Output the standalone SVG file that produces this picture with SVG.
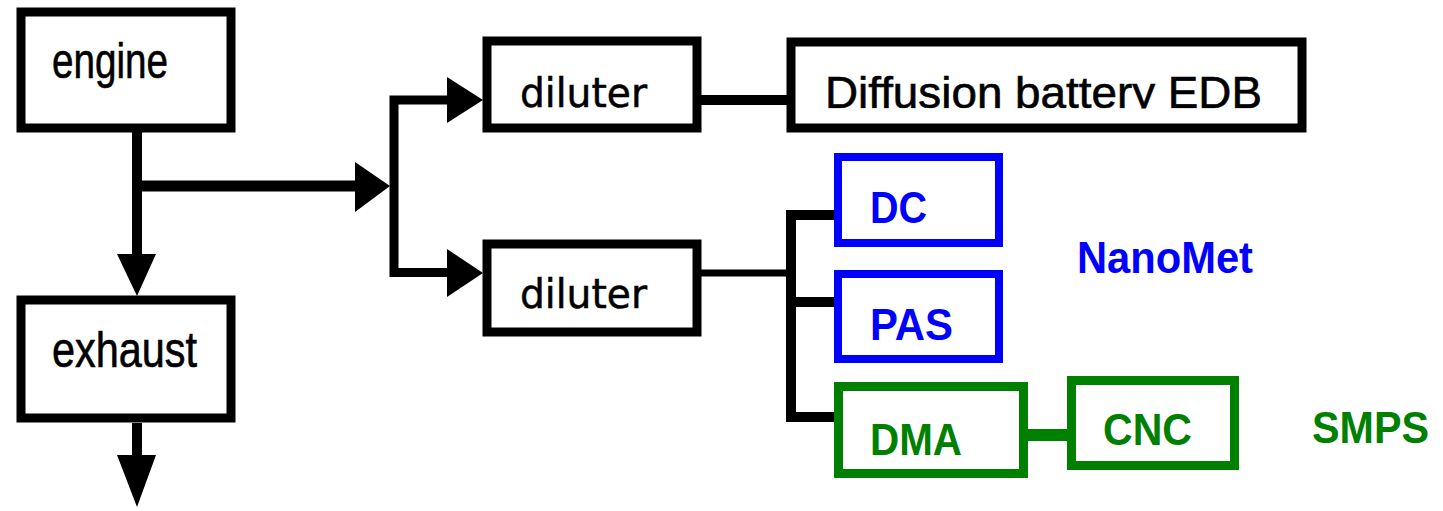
<svg xmlns="http://www.w3.org/2000/svg" width="1443" height="511" viewBox="0 0 1443 511">
<style>
.box{fill:#fff;stroke:#000;stroke-width:9}
.blue{fill:#fff;stroke:#0000ff;stroke-width:8}
.green{fill:#fff;stroke:#008000;stroke-width:9}
.t{font-family:"Liberation Sans",Arial,sans-serif;font-size:48px;fill:#000;stroke:#000;stroke-width:0.6}
.d{font-family:"DejaVu Sans",sans-serif;font-size:40px;fill:#000;stroke:#000;stroke-width:0.5}
.b{font-family:"Liberation Sans",Arial,sans-serif;font-weight:bold;font-size:41px}
.wire{fill:none;stroke:#000;stroke-linejoin:miter;stroke-linecap:butt}
.head{fill:#000}
</style>
<defs>
<clipPath id="clipEdb"><rect x="800" y="50" width="500" height="58.5"/></clipPath>
</defs>
<rect width="1443" height="511" fill="#fff"/>
<g id="connectors">
<path class="wire" stroke-width="10" d="M137 132 V255"/>
<path class="wire" stroke-width="11" d="M137 186 H356"/>
<path class="wire" stroke-width="10" d="M137 423 V456"/>
<path class="wire" stroke-width="9" d="M448 100 H394 V272.5 H448"/>
<path class="wire" stroke-width="10" d="M701 100 H787"/>
<path class="wire" stroke-width="7" d="M701 273 H791"/>
<path class="wire" stroke-width="10" d="M834 215 H791 V417 H834"/>
<path class="wire" stroke-width="10" d="M791 302 H834"/>
<path fill="none" stroke="#008000" stroke-width="12" d="M1028 435 H1067"/>
<polygon class="head" points="117,254 156,254 137,296"/>
<polygon class="head" points="117,455 156,455 137,507"/>
<polygon class="head" points="355,162 390,186 355,212"/>
<polygon class="head" points="447,77 483,100 447,123"/>
<polygon class="head" points="447,249 483,273 447,297"/>
</g>
<g id="engine">
<rect class="box" x="21" y="12" width="210" height="116"/>
<text class="t" transform="translate(52 78) scale(1 1.05)" textLength="116" lengthAdjust="spacingAndGlyphs">engine</text>
</g>
<g id="exhaust">
<rect class="box" x="21" y="300" width="210" height="118"/>
<text class="t" transform="translate(52 367) scale(1 1.05)" textLength="145" lengthAdjust="spacingAndGlyphs">exhaust</text>
</g>
<g id="diluter1">
<rect class="box" x="487" y="41" width="210" height="87"/>
<text class="d" x="520" y="107" textLength="127" lengthAdjust="spacingAndGlyphs">diluter</text>
</g>
<g id="diluter2">
<rect class="box" x="487" y="244" width="210" height="88"/>
<text class="d" x="520" y="308" textLength="127" lengthAdjust="spacingAndGlyphs">diluter</text>
</g>
<g id="edb">
<rect class="box" x="791" y="42" width="511" height="86"/>
<g clip-path="url(#clipEdb)">
<text class="t" x="825" y="108" textLength="437" lengthAdjust="spacingAndGlyphs" style="font-size:45px">Diffusion battery EDB</text>
</g>
</g>
<g id="dc">
<rect class="blue" x="838" y="157" width="161" height="86"/>
<text class="b" transform="translate(870 223) scale(1 1.1)" fill="#0000ff" textLength="57" lengthAdjust="spacingAndGlyphs">DC</text>
</g>
<g id="pas">
<rect class="blue" x="838" y="274" width="161" height="85"/>
<text class="b" transform="translate(870 340) scale(1 1.1)" fill="#0000ff" textLength="83" lengthAdjust="spacingAndGlyphs">PAS</text>
</g>
<g id="nanomet">
<text class="b" transform="translate(1077 273) scale(1 1.1)" fill="#0000ff" textLength="176" lengthAdjust="spacingAndGlyphs">NanoMet</text>
</g>
<g id="dma">
<rect class="green" x="838.5" y="386.5" width="185" height="87"/>
<text class="b" transform="translate(870 455) scale(1 1.1)" fill="#008000" textLength="92" lengthAdjust="spacingAndGlyphs">DMA</text>
</g>
<g id="cnc">
<rect class="green" x="1071.5" y="380.5" width="163" height="85"/>
<text class="b" transform="translate(1103 445) scale(1 1.1)" fill="#008000" textLength="89" lengthAdjust="spacingAndGlyphs">CNC</text>
</g>
<g id="smps">
<text class="b" transform="translate(1312 443) scale(1 1.1)" fill="#008000" textLength="117" lengthAdjust="spacingAndGlyphs">SMPS</text>
</g>
</svg>
